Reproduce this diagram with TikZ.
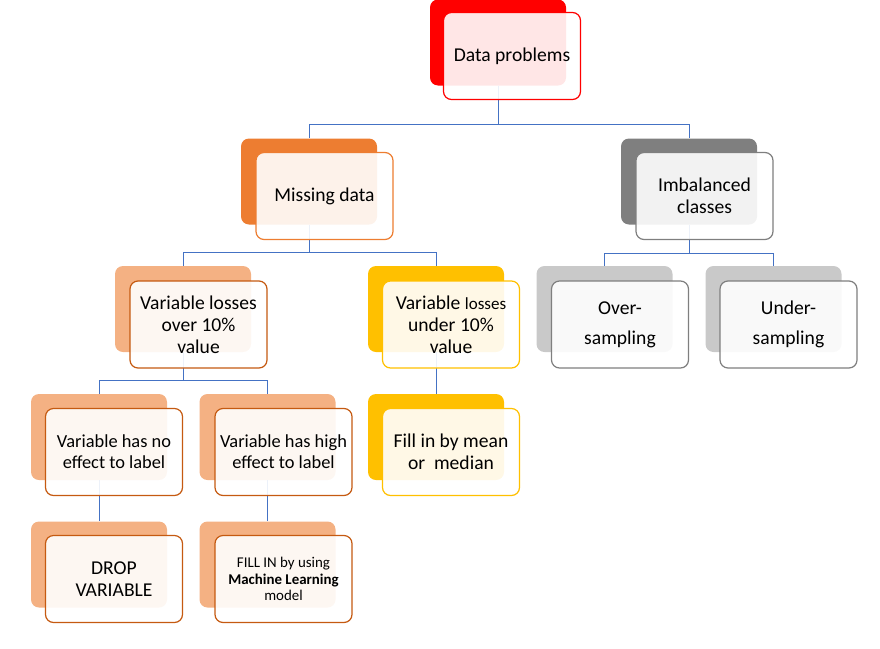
\documentclass[tikz,border=0pt]{standalone}
\usepackage{fontspec}
\setmainfont{Carlito}
\definecolor{dpred}{HTML}{FF0000}
\definecolor{mdorange}{HTML}{ED7D31}
\definecolor{paleorange}{HTML}{F4B183}
\definecolor{rustorange}{HTML}{C55A11}
\definecolor{gold}{HTML}{FFC000}
\definecolor{icgray}{HTML}{7F7F7F}
\definecolor{sampgray}{HTML}{C9C9C9}
\definecolor{connblue}{HTML}{4472C4}
\newcommand{\bigtxt}{\fontsize{19.6pt}{22pt}\selectfont}
\newcommand{\midtxt}{\fontsize{18.4pt}{20.7pt}\selectfont}
\newcommand{\smalltxt}{\fontsize{14.9pt}{16.2pt}\selectfont}

\begin{document}
\begin{tikzpicture}[x=1pt,y=-1pt,
  backbox/.style={rounded corners=8pt,minimum width=136pt,minimum height=86pt,inner sep=0pt,fill=#1},
  frontbox/.style={rounded corners=8pt,minimum width=137pt,minimum height=87pt,inner sep=2pt,
    draw=#1,line width=1.2pt,fill=white,fill opacity=0.9,text opacity=1,align=center,font=\bigtxt},
  conn/.style={draw=connblue,line width=1pt}]
\useasboundingbox (0,0) rectangle (880,648);
% back boxes
\node[backbox=dpred] (dpb) at (498,42.5) {};
\node[backbox=mdorange] (mdb) at (309,181.5) {};
\node[backbox=icgray] (icb) at (689,181.5) {};
\node[backbox=paleorange] (vob) at (183,309) {};
\node[backbox=gold] (vub) at (436,309) {};
\node[backbox=sampgray] (osb) at (604.5,309) {};
\node[backbox=sampgray] (usb) at (773.5,309) {};
\node[backbox=paleorange] (neb) at (99,437) {};
\node[backbox=paleorange] (heb) at (267.5,437) {};
\node[backbox=gold] (fmb) at (436,437) {};
\node[backbox=paleorange] (dvb) at (99,564.5) {};
\node[backbox=paleorange] (mlb) at (267.5,564.5) {};
% connectors
\coordinate (dpbar) at (498,124);
\draw[conn] (dpb.south) -- (dpbar) -| (mdb.north);
\draw[conn] (dpbar) -| (icb.north);
\coordinate (mdbar) at (309,252);
\draw[conn] (mdb.south) -- (mdbar) -| (vob.north);
\draw[conn] (mdbar) -| (vub.north);
\coordinate (icbar) at (689,253);
\draw[conn] (icb.south) -- (icbar) -| (osb.north);
\draw[conn] (icbar) -| (usb.north);
\coordinate (vobar) at (183,380);
\draw[conn] (vob.south) -- (vobar) -| (neb.north);
\draw[conn] (vobar) -| (heb.north);
\draw[conn] (vub.south) -- (fmb.north);
\draw[conn] (neb.south) -- (dvb.north);
\draw[conn] (heb.south) -- (mlb.north);
% front boxes
\node[frontbox=dpred] (dp) at (512,56) {Data problems};
\node[frontbox=mdorange] (md) at (324.5,196) {Missing data};
\node[frontbox=icgray] (ic) at (704.5,196) {Imbalanced\\classes};
\node[frontbox=rustorange] (vo) at (198.5,324.5) {Variable losses\\over 10\%\\value};
\node[frontbox=gold] (vu) at (451,324.5) {Variable {\fontsize{17pt}{22pt}\selectfont losses}\\under 10\%\\value};
\node[frontbox=icgray,font={\fontsize{19.6pt}{30pt}\selectfont}] (os) at (620,324.5) {Over-\\sampling};
\node[frontbox=icgray,font={\fontsize{19.6pt}{30pt}\selectfont}] (us) at (788.5,324.5) {Under-\\sampling};
\node[frontbox=rustorange,font=\midtxt] (ne) at (114,452) {Variable has no\\effect to label};
\node[frontbox=rustorange,font=\midtxt] (he) at (283.5,452) {Variable has high\\effect to label};
\node[frontbox=gold] (fm) at (451,452) {Fill in by mean\\or~~median};
\node[frontbox=rustorange] (dv) at (114,579) {DROP\\VARIABLE};
\node[frontbox=rustorange,font=\smalltxt] (ml) at (283.5,579) {FILL IN by using\\\textbf{Machine Learning}\\model};
\end{tikzpicture}
\end{document}
